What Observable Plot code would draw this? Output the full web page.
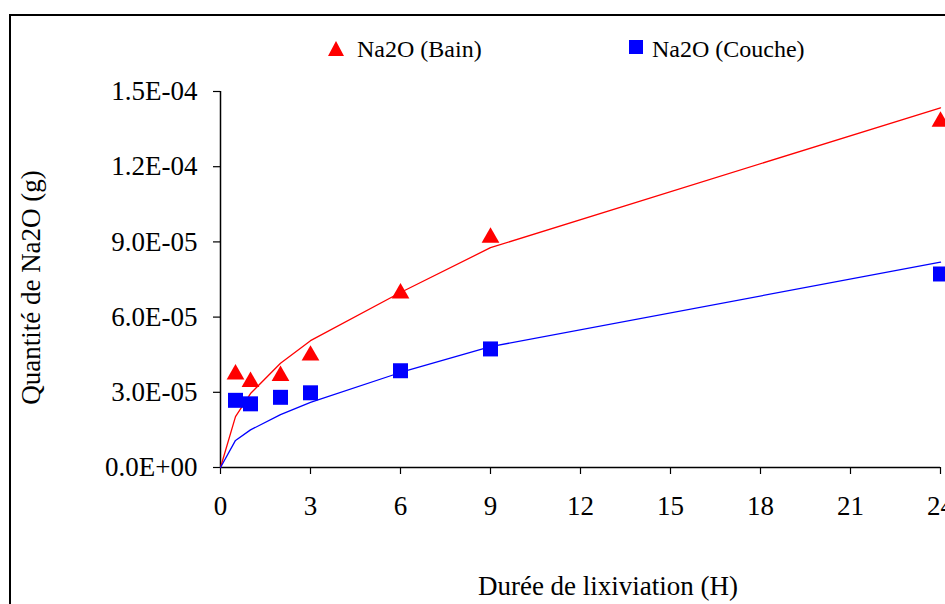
<!DOCTYPE html>
<html>
<head>
<meta charset="utf-8">
<script src="https://cdn.jsdelivr.net/npm/d3@7"></script>
<script src="https://cdn.jsdelivr.net/npm/@observablehq/plot@0.6"></script>
<style>
  html, body { margin: 0; padding: 0; background: white; }
  #wrap { position: relative; width: 945px; height: 604px; overflow: hidden; background: white; }
  #wrap svg { position: absolute; left: 0; top: 0; }
  #overlay { pointer-events: none; }
  #overlay text { font-family: "Liberation Serif", "Times New Roman", serif; fill: black; }
</style>
</head>
<body>
<div id="wrap"></div>
<script>
// Data
const hours = [0.5, 1, 2, 3, 6, 9, 24];
const bainValues = [3.72e-5, 3.42e-5, 3.66e-5, 4.47e-5, 6.95e-5, 9.17e-5, 1.38e-4];
const coucheValues = [2.68e-5, 2.54e-5, 2.80e-5, 2.98e-5, 3.86e-5, 4.73e-5, 7.72e-5];
const fitHours = [0, 0.5, 1, 2, 3, 6, 9, 24];
const bainFit = [0, 2.03e-5, 2.95e-5, 4.16e-5, 5.06e-5, 6.98e-5, 8.77e-5, 1.435e-4];
const coucheFit = [0, 1.08e-5, 1.50e-5, 2.11e-5, 2.60e-5, 3.79e-5, 4.82e-5, 8.19e-5];
const xTicks = [0, 3, 6, 9, 12, 15, 18, 21, 24];
const yTicks = [0, 3e-5, 6e-5, 9e-5, 1.2e-4, 1.5e-4];
const seriesNames = ["Na2O (Bain)", "Na2O (Couche)"];
const xLabel = "Durée de lixiviation (H)";
const yLabel = "Quantité de Na2O (g)";

const bain = hours.map((h, i) => ({h, v: bainValues[i]}));
const couche = hours.map((h, i) => ({h, v: coucheValues[i]}));
const bainLine = fitHours.map((h, i) => ({h, v: bainFit[i]}));
const coucheLine = fitHours.map((h, i) => ({h, v: coucheFit[i]}));

function sci(d) {
  const [m, e] = d.toExponential(1).split("e");
  const n = Math.abs(+e);
  return `${m}E${+e < 0 ? "-" : "+"}${String(n).padStart(2, "0")}`;
}

const wrap = document.getElementById("wrap");

// Frame border behind the chart
const ns = "http://www.w3.org/2000/svg";
const back = document.createElementNS(ns, "svg");
back.setAttribute("width", 945); back.setAttribute("height", 604);
back.innerHTML = `<rect x="10" y="15" width="1000" height="700" fill="none" stroke="black" stroke-width="2"/>`;
wrap.appendChild(back);

const chart = Plot.plot({
  width: 945,
  height: 604,
  marginLeft: 220,
  marginRight: 5,
  marginTop: 91,
  marginBottom: 137,
  style: {background: "transparent", fontFamily: "'Liberation Serif', 'Times New Roman', serif", fontSize: "27px", color: "black"},
  x: {domain: [0, 24]},
  y: {domain: [0, 1.5e-4]},
  marks: [
    Plot.axisY({ticks: yTicks, tickFormat: sci, tickSize: 7, tickPadding: 16, label: null, stroke: "black", strokeWidth: 1.2, fill: "black"}),
    Plot.axisX({ticks: xTicks, tickFormat: d => String(d), tickSize: 7, tickPadding: 21, label: null, stroke: "black", strokeWidth: 1.2, fill: "black"}),
    Plot.ruleX([0], {stroke: "black", strokeWidth: 1.5}),
    Plot.ruleY([0], {stroke: "black", strokeWidth: 1.5}),
    Plot.line(bainLine, {x: "h", y: "v", stroke: "#ff0000", strokeWidth: 1.3}),
    Plot.line(coucheLine, {x: "h", y: "v", stroke: "#0000ff", strokeWidth: 1.3}),
    Plot.dot(bain, {x: "h", y: "v", symbol: "triangle", r: 6.6, fill: "#ff0000", stroke: "none"}),
    Plot.dot(couche, {x: "h", y: "v", symbol: "square", r: 8.46, fill: "#0000ff", stroke: "none"})
  ]
});
wrap.appendChild(chart);

// Legend and axis titles
const over = document.createElementNS(ns, "svg");
over.setAttribute("id", "overlay");
over.setAttribute("width", 945); over.setAttribute("height", 604);
over.innerHTML = `
  <polygon points="336,41 328,56 344,56" fill="#ff0000"/>
  <text x="357" y="57" font-size="24">${seriesNames[0]}</text>
  <rect x="629" y="40" width="14" height="14" fill="#0000ff"/>
  <text x="652" y="57" font-size="24">${seriesNames[1]}</text>
  <text x="608" y="595" font-size="27" text-anchor="middle">${xLabel}</text>
  <text transform="translate(40,287.5) rotate(-90)" font-size="27" text-anchor="middle">${yLabel}</text>
`;
wrap.appendChild(over);
</script>
</body>
</html>
